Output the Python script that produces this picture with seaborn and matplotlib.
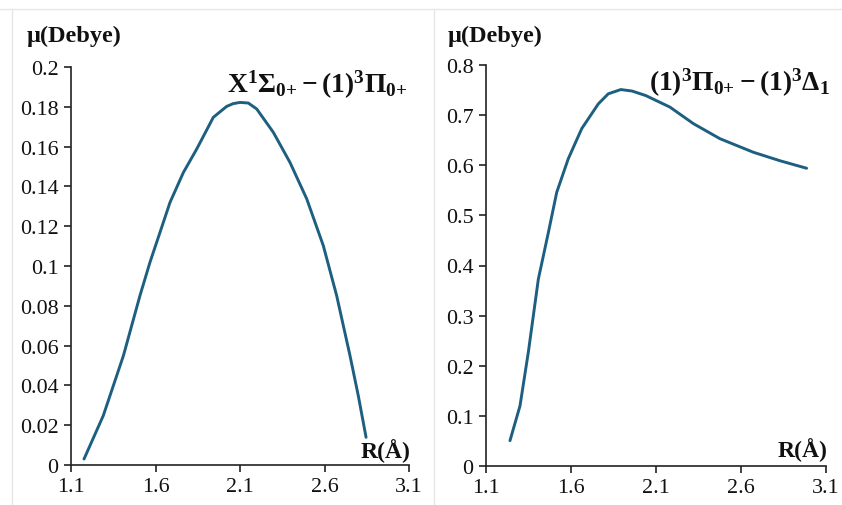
import numpy as np
import pandas as pd
import matplotlib
matplotlib.use("Agg")
import matplotlib.pyplot as plt
from matplotlib.lines import Line2D
import seaborn as sns

# Left panel: X1Sigma0+ - (1)3Pi0+
r_left = [1.177, 1.291, 1.41, 1.508, 1.567, 1.627, 1.686, 1.765, 1.844, 1.942, 2.021, 2.06, 2.10,
          2.149, 2.199, 2.297, 2.396, 2.495, 2.593, 2.672, 2.751, 2.80, 2.846]
mu_left = [0.0030, 0.0248, 0.0549, 0.0851, 0.1018, 0.117, 0.132, 0.147, 0.1588, 0.1747, 0.1802, 0.1816, 0.1822,
           0.1819, 0.1789, 0.1672, 0.152, 0.1337, 0.1102, 0.0851, 0.0549, 0.0348, 0.0139]

# Right panel: (1)3Pi0+ - (1)3Delta1
r_right = [1.241, 1.30, 1.349, 1.408, 1.467, 1.516, 1.584, 1.663, 1.761, 1.819, 1.893, 1.96, 2.04,
           2.182, 2.32, 2.476, 2.672, 2.829, 2.986]
mu_right = [0.0505, 0.120, 0.227, 0.373, 0.466, 0.546, 0.613, 0.673, 0.7226, 0.7425, 0.751, 0.748, 0.739,
            0.716, 0.683, 0.653, 0.626, 0.609, 0.594]

x_ticks = [1.1, 1.6, 2.1, 2.6, 3.1]
x_tick_labels = ["1.1", "1.6", "2.1", "2.6", "3.1"]
y_ticks_left = [0, 0.02, 0.04, 0.06, 0.08, 0.1, 0.12, 0.14, 0.16, 0.18, 0.2]
y_labels_left = ["0", "0.02", "0.04", "0.06", "0.08", "0.1", "0.12", "0.14", "0.16", "0.18", "0.2"]
y_ticks_right = [0, 0.1, 0.2, 0.3, 0.4, 0.5, 0.6, 0.7, 0.8]
y_labels_right = ["0", "0.1", "0.2", "0.3", "0.4", "0.5", "0.6", "0.7", "0.8"]

title_left = r"$\mathbf{X^1\Sigma_{0{+}} - (1)^3\Pi_{0{+}}}$"
title_right = r"$\mathbf{(1)^3\Pi_{0{+}} - (1)^3\Delta_1}$"
y_label = "μ(Debye)"
x_label = "R(Å)"

sns.set_theme(style="white")
plt.rcParams["font.family"] = ["Liberation Serif", "DejaVu Serif"]
plt.rcParams["mathtext.fontset"] = "custom"
plt.rcParams["mathtext.rm"] = "Liberation Serif:bold"
plt.rcParams["mathtext.it"] = "Liberation Serif:bold"
plt.rcParams["mathtext.bf"] = "Liberation Serif:bold"
plt.rcParams["mathtext.default"] = "rm"

line_color = "#1d5f80"

fig = plt.figure(figsize=(8.42, 5.06), dpi=100)
fig.patch.set_facecolor("white")

# light panel frames
frame_c = "#e6e6e6"
fig.add_artist(Line2D([0, 1], [1 - 9.5 / 506] * 2, color=frame_c, lw=1.0, transform=fig.transFigure))
fig.add_artist(Line2D([11.5 / 842] * 2, [0, 1 - 9.5 / 506], color=frame_c, lw=1.0, transform=fig.transFigure))
fig.add_artist(Line2D([434 / 842] * 2, [0, 1 - 9.5 / 506], color=frame_c, lw=1.0, transform=fig.transFigure))

ax1 = fig.add_axes([71 / 842, 1 - 466 / 506, (409 - 71) / 842, (466 - 68) / 506])
ax2 = fig.add_axes([486 / 842, 1 - 467 / 506, (826 - 486) / 842, (467 - 66) / 506])

df_l = pd.DataFrame({"R": r_left, "mu": mu_left})
df_r = pd.DataFrame({"R": r_right, "mu": mu_right})

sns.lineplot(data=df_l, x="R", y="mu", ax=ax1, color=line_color, lw=2.1, sort=False,
             solid_capstyle="round", solid_joinstyle="round")
sns.lineplot(data=df_r, x="R", y="mu", ax=ax2, color=line_color, lw=2.1, sort=False,
             solid_capstyle="round", solid_joinstyle="round")

panels = [
    (ax1, y_ticks_left, y_labels_left, (0, 0.2), title_left, 27, 0.995, 0.957, 0.038),
    (ax2, y_ticks_right, y_labels_right, (0, 0.8), title_right, 448, 1.012, 0.957, 0.042),
]
for ax, yt, yl, ylim, title, ylab_px, title_x, title_y, xlab_y in panels:
    ax.set_xlim(1.1, 3.1)
    ax.set_ylim(*ylim)
    ax.set_xticks(x_ticks)
    ax.set_xticklabels(x_tick_labels)
    ax.set_yticks(yt)
    ax.set_yticklabels(yl)
    ax.set_xlabel("")
    ax.set_ylabel("")
    ax.set_facecolor("white")
    for s in ["top", "right"]:
        ax.spines[s].set_visible(False)
    for s in ["left", "bottom"]:
        ax.spines[s].set_color("#222222")
        ax.spines[s].set_linewidth(1.2)
    ax.tick_params(axis="both", which="major", direction="out", length=5, width=1.2,
                   color="#222222", labelsize=15.8, labelcolor="#111111", pad=4,
                   bottom=True, left=True)
    fig.text(ylab_px / 842, 1 - 36 / 506, y_label, ha="left", va="center",
             fontsize=17.5, fontweight="bold", color="#111111")
    ax.text(1.005, xlab_y, x_label, transform=ax.transAxes, ha="right", va="center",
            fontsize=17, fontweight="bold", color="#111111")
    ax.text(title_x, title_y, title, transform=ax.transAxes, ha="right", va="center",
            fontsize=19.8, color="#111111", clip_on=False)

fig.savefig("out.png", dpi=100, facecolor="white")
